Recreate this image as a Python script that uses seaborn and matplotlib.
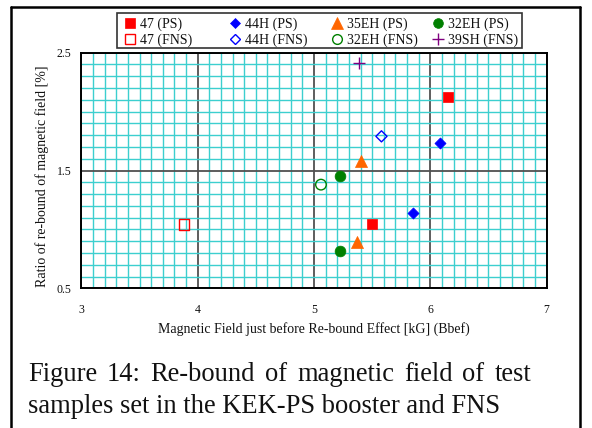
import matplotlib
matplotlib.use("Agg")
import matplotlib.pyplot as plt
from matplotlib.lines import Line2D
from matplotlib.patches import Rectangle
from matplotlib.ticker import MultipleLocator, FixedLocator
import pandas as pd
import seaborn as sns

# Rebound ratio [%] versus field just before the rebound [kG]
ps47_x = [6.15, 5.50]
ps47_y = [2.12, 1.05]
ps44h_x = [6.08, 5.85]
ps44h_y = [1.73, 1.14]
ps35eh_x = [5.40, 5.37]
ps35eh_y = [1.58, 0.89]
ps32eh_x = [5.22, 5.22]
ps32eh_y = [1.45, 0.82]
fns47_x = [3.88]
fns47_y = [1.04]
fns44h_x = [5.58]
fns44h_y = [1.79]
fns32eh_x = [5.06]
fns32eh_y = [1.38]
fns39sh_x = [5.39]
fns39sh_y = [2.41]

series_labels = ["47 (PS)", "44H (PS)", "35EH (PS)", "32EH (PS)",
                 "47 (FNS)", "44H (FNS)", "32EH (FNS)", "39SH (FNS)"]
x_ticks = [3, 4, 5, 6, 7]
y_ticks = [0.5, 1.5, 2.5]
x_label = "Magnetic Field just before Re-bound Effect [kG] (Bbef)"
y_label = "Ratio of re-bound of magnetic field [%]"
caption_1 = "Figure 14: Re-bound of magnetic field of test"
caption_2 = "samples set in the KEK-PS booster and FNS"

frames = []
for lab, xs, ys in zip(series_labels,
                       [ps47_x, ps44h_x, ps35eh_x, ps32eh_x, fns47_x, fns44h_x, fns32eh_x, fns39sh_x],
                       [ps47_y, ps44h_y, ps35eh_y, ps32eh_y, fns47_y, fns44h_y, fns32eh_y, fns39sh_y]):
    frames.append(pd.DataFrame({"bbef": xs, "ratio": ys, "sample": lab}))
df = pd.concat(frames, ignore_index=True)

# marker, size (pt^2), face, edge, linewidth
styles = {
    "47 (PS)":    ("s", 52, "#FF0000", "#FF0000", 0.5),
    "44H (PS)":   ("D", 32, "#0000FF", "#0000FF", 0.5),
    "35EH (PS)":  ("^", 75, "#FF6600", "#FF6600", 0.5),
    "32EH (PS)":  ("o", 60, "#008000", "#008000", 0.5),
    "47 (FNS)":   ("s", 56, "none", "#FF0000", 1.0),
    "44H (FNS)":  ("D", 32, "none", "#0000FF", 1.0),
    "32EH (FNS)": ("o", 58, "none", "#008000", 1.0),
    "39SH (FNS)": ("+", 85, "#800080", "#800080", 1.0),
}

sns.set_theme(style="white")
plt.rcParams["font.family"] = ["Liberation Serif", "DejaVu Serif"]

W, H = 592, 428
fig = plt.figure(figsize=(W / 100, H / 100), dpi=100)

def fx(px):
    return px / W

def fy(py):
    return (H - py) / H

ax = fig.add_axes([fx(81.4), fy(288.3), fx(546.6) - fx(81.4), fy(52.7) - fy(288.3)])

for lab in series_labels:
    m, s, fc, ec, lw = styles[lab]
    sub = df[df["sample"] == lab]
    if m == "+":
        sns.scatterplot(data=sub, x="bbef", y="ratio", ax=ax, marker=m, s=s,
                        color=ec, linewidth=lw, zorder=5, legend=False)
    else:
        sns.scatterplot(data=sub, x="bbef", y="ratio", ax=ax, marker=m, s=s,
                        facecolor=fc, edgecolor=ec, linewidth=lw, zorder=5, legend=False)

ax.set_xlim(3, 7)
ax.set_ylim(0.5, 2.5)
ax.xaxis.set_major_locator(FixedLocator(x_ticks))
ax.yaxis.set_major_locator(FixedLocator(y_ticks))
ax.xaxis.set_minor_locator(MultipleLocator(0.1))
ax.yaxis.set_minor_locator(MultipleLocator(0.1))
ax.set_xticklabels([str(t) for t in x_ticks])
ax.set_yticklabels([str(t) for t in y_ticks])
ax.set_axisbelow(True)
ax.grid(which="minor", color="#3CCFCF", linewidth=1.0)
ax.grid(which="major", color="#505050", linewidth=1.3)
ax.tick_params(which="both", length=0)
ax.tick_params(axis="x", pad=11, labelsize=8.5, colors="#111111")
ax.tick_params(axis="y", pad=7, labelsize=8.5, colors="#111111")
for sp in ax.spines.values():
    sp.set_color("black")
    sp.set_linewidth(1.4)
    sp.set_zorder(6)

ax.set_xlabel(x_label, fontsize=10, labelpad=5, color="#111111")
ax.set_ylabel("")
fig.text(fx(42), fy(176), y_label, rotation=90, ha="center", va="center",
         fontsize=10, color="#111111")

# legend: four two-row columns inside one box above the plot
handles = {}
for lab in series_labels:
    m, s, fc, ec, lw = styles[lab]
    ms = {"s": 7, "D": 5.5, "^": 8, "o": 7, "+": 8}[m]
    handles[lab] = Line2D([], [], linestyle="none", marker=m, markersize=ms,
                          markerfacecolor=fc, markeredgecolor=ec,
                          markeredgewidth=lw, color=ec)
columns = [("47 (PS)", "47 (FNS)"), ("44H (PS)", "44H (FNS)"),
           ("35EH (PS)", "32EH (FNS)"), ("32EH (PS)", "39SH (FNS)")]
col_marker_x = [130, 235, 337, 438]
for (a, b), mx in zip(columns, col_marker_x):
    leg = fig.legend([handles[a], handles[b]], [a, b], loc="center left",
                     bbox_to_anchor=(fx(mx - 7.0), fy(32.2)), frameon=False,
                     fontsize=10, borderpad=0.0, borderaxespad=0.0,
                     labelspacing=0.15, handlelength=1.0, handletextpad=0.22)
    for t in leg.get_texts():
        t.set_color("#111111")
fig.add_artist(Rectangle((fx(117), fy(48.3)), fx(522) - fx(117), fy(12.7) - fy(48.3),
                         transform=fig.transFigure, fill=False,
                         edgecolor="#333333", linewidth=1.2))

# page frame
for x0, y0, x1, y1 in [(11, 6.7, 580, 6.7), (11, 6.7, 11, 428), (580, 6.7, 580, 428)]:
    fig.add_artist(Line2D([fx(x0), fx(x1)], [fy(y0), fy(y1)], color="black",
                          linewidth=1.8, transform=fig.transFigure))

# caption, first line justified between the margins
cap_size = 19.1
fig.canvas.draw()
renderer = fig.canvas.get_renderer()
words = caption_1.split(" ")
widths = []
for w in words:
    t = fig.text(0, 0, w, fontsize=cap_size)
    widths.append(t.get_window_extent(renderer).width)
    t.remove()
left_px, right_px = 28.0, 531.0
gap = (right_px - left_px - sum(widths)) / (len(words) - 1)
xpos = left_px
for w, wd in zip(words, widths):
    fig.text(fx(xpos), fy(380.7), w, fontsize=cap_size, va="baseline", ha="left", color="#111111")
    xpos += wd + gap
fig.text(fx(left_px), fy(412.7), caption_2, fontsize=cap_size, va="baseline", ha="left", color="#111111")

fig.savefig("out.png", dpi=100)
